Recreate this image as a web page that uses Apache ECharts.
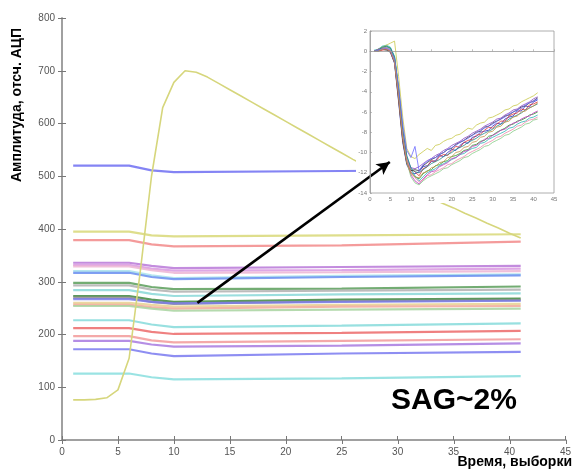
<!DOCTYPE html>
<html><head><meta charset="utf-8">
<script src="https://cdn.jsdelivr.net/npm/echarts@6/dist/echarts.min.js"></script>
<style>html,body{margin:0;padding:0;background:#fff}#c{width:574px;height:472px}</style>
</head><body><div id="c"></div>
<script>
// Sample indices shared by the full-resolution traces
const samples = Array.from({ length: 41 }, (_, i) => i + 1);

// Baseline channels: value at these sample indices
const levelX = [1, 6, 8, 10, 25, 41];
const levelValues = [
  [520, 520, 511, 508, 510, 512],
  [395, 395, 388, 386, 388, 390],
  [379, 379, 371, 367, 369, 376],
  [336, 336, 330, 326, 328, 330],
  [332, 332, 325, 321, 322, 325],
  [329, 329, 322, 317, 318, 320],
  [320, 320, 312, 307, 311, 314],
  [317, 317, 309, 305, 309, 312],
  [298, 298, 290, 286, 287, 291],
  [293, 293, 285, 281, 283, 285],
  [284, 284, 277, 273, 276, 278],
  [273, 273, 266, 262, 266, 268],
  [270, 270, 262, 258, 263, 265],
  [267, 267, 262, 259, 262, 264],
  [260, 260, 256, 253, 256, 258],
  [256, 256, 252, 249, 253, 254],
  [254, 254, 249, 245, 247, 249],
  [227, 227, 219, 214, 217, 221],
  [212, 212, 205, 201, 203, 207],
  [197, 197, 189, 185, 188, 191],
  [188, 188, 181, 177, 179, 183],
  [172, 172, 164, 159, 164, 167],
  [126, 126, 119, 115, 117, 121]
];
const levelColors = [
  '#6f6ff2', '#d8d878', '#f28a8a', '#b878d8', '#d898e0', '#ecb4d4', '#a8e0ec',
  '#6a8ef0', '#5a9e5a', '#b0b0b0', '#8ad8d8', '#3f873f', '#8c8c8c', '#7a7ae8',
  '#e8d090', '#f2a898', '#a8d4a0', '#86dada', '#ec6a6a', '#f29a9a', '#a87ae0',
  '#7a7af0', '#88dede'
];

// Channel with the large pulse
const pulseValues = [76, 76, 77, 80, 95, 155, 320, 500, 630, 678, 700, 697, 688, 676, 664,
  652, 640, 628, 616, 604, 592, 580, 568, 556, 544, 532, 521, 510, 499, 489, 479, 469, 459,
  449, 440, 430, 421, 411, 402, 392, 383];

// Baseline-subtracted traces shown in the inset
const insetTraces = [
  [0, 0.1, 0.2, 0.2, -0.1, -1.2, -5.0, -9.0, -11.2, -12.0, -12.1, -11.9, -11.4, -11.3, -10.9, -10.8, -10.3, -10.4, -10.0, -9.7, -9.8, -9.3, -9.0, -9.1, -8.5, -8.4, -8.0, -7.9, -7.8, -7.4, -7.1, -7.2, -6.7, -6.5, -6.4, -5.9, -5.9, -5.4, -5.5, -5.0, -4.8],
  [0, 0.2, 0.4, 0.5, 0.3, -0.6, -3.8, -7.9, -10.6, -11.9, -12.4, -12.6, -12.1, -11.8, -11.7, -11.3, -11.2, -10.9, -10.8, -10.4, -10.3, -10.1, -9.8, -9.7, -9.3, -9.2, -8.9, -8.8, -8.4, -8.3, -8.0, -7.8, -7.6, -7.3, -7.2, -6.9, -6.8, -6.6, -6.3, -6.2, -6.0],
  [0, 0.0, 0.1, 0.2, 0.0, -1.0, -4.5, -8.6, -11.0, -11.7, -11.9, -12.3, -11.6, -11.4, -10.8, -10.9, -10.4, -10.2, -10.3, -9.8, -9.4, -9.5, -9.0, -8.8, -8.7, -8.3, -8.2, -7.8, -7.5, -7.6, -7.2, -6.9, -6.9, -6.4, -6.2, -6.1, -5.7, -5.8, -5.3, -5.2, -5.0],
  [0.1, 0.2, 0.5, 0.6, 0.4, -0.5, -3.6, -7.8, -10.4, -11.6, -12.3, -12.8, -12.4, -12.0, -11.8, -11.6, -11.3, -11.1, -10.9, -10.7, -10.5, -10.2, -10.1, -9.8, -9.6, -9.5, -9.1, -9.0, -8.7, -8.5, -8.3, -8.1, -7.9, -7.6, -7.5, -7.2, -7.0, -6.9, -6.6, -6.5, -6.3],
  [0, 0.1, 0.3, 0.4, 0.2, -0.8, -4.0, -8.1, -10.9, -12.2, -12.8, -13.1, -12.6, -12.2, -11.9, -11.8, -11.4, -11.2, -11.0, -10.6, -10.5, -10.2, -9.9, -9.8, -9.4, -9.3, -9.0, -8.7, -8.6, -8.3, -8.1, -7.8, -7.7, -7.4, -7.1, -7.0, -6.7, -6.5, -6.4, -6.1, -5.9],
  [0, 0.2, 0.4, 0.6, 0.8, 1.0, -2.5, -6.5, -9.6, -10.4, -10.6, -10.2, -9.9, -9.6, -9.8, -9.3, -9.2, -8.9, -8.7, -8.6, -8.3, -8.2, -7.9, -7.6, -7.7, -7.3, -7.1, -7.0, -6.6, -6.5, -6.3, -6.1, -5.8, -5.7, -5.4, -5.3, -5.0, -4.8, -4.6, -4.4, -4.1],
  [0, 0.0, 0.2, 0.1, -0.1, -1.1, -4.8, -8.8, -11.1, -11.8, -11.7, -11.8, -11.3, -11.0, -10.7, -10.5, -10.2, -10.0, -9.7, -9.6, -9.2, -9.0, -8.8, -8.5, -8.3, -8.0, -7.9, -7.5, -7.4, -7.1, -6.9, -6.7, -6.4, -6.3, -6.0, -5.8, -5.5, -5.4, -5.1, -4.9, -4.6],
  [0, 0.1, 0.3, 0.4, 0.2, -0.7, -3.9, -8.2, -10.9, -12.4, -13.0, -13.2, -12.8, -12.5, -12.3, -12.1, -11.9, -11.6, -11.5, -11.2, -11.0, -10.8, -10.5, -10.4, -10.1, -9.9, -9.7, -9.4, -9.3, -9.0, -8.8, -8.6, -8.3, -8.2, -7.9, -7.7, -7.5, -7.2, -7.1, -6.8, -6.7],
  [0, 0.2, 0.3, 0.3, 0.0, -1.0, -4.3, -8.4, -10.7, -11.5, -11.6, -11.4, -11.1, -10.8, -10.6, -10.3, -10.1, -9.8, -9.6, -9.3, -9.1, -8.9, -8.6, -8.4, -8.1, -7.9, -7.7, -7.4, -7.2, -7.0, -6.7, -6.6, -6.3, -6.1, -5.8, -5.7, -5.4, -5.2, -5.0, -4.7, -4.5],
  [0, 0.1, 0.2, 0.3, 0.1, -0.9, -4.1, -8.0, -10.6, -11.9, -12.5, -12.9, -12.7, -12.3, -12.2, -11.9, -11.7, -11.5, -11.2, -11.1, -10.8, -10.6, -10.4, -10.1, -9.9, -9.7, -9.5, -9.2, -9.0, -8.8, -8.5, -8.4, -8.1, -7.9, -7.7, -7.4, -7.3, -7.0, -6.8, -6.7, -6.5],
  [0, 0.1, 0.4, 0.5, 0.3, -0.6, -3.7, -7.7, -10.3, -11.5, -11.9, -12.0, -11.7, -11.4, -11.1, -10.9, -10.7, -10.4, -10.2, -10.0, -9.7, -9.5, -9.3, -9.0, -8.8, -8.6, -8.3, -8.1, -7.9, -7.7, -7.4, -7.2, -7.0, -6.7, -6.5, -6.3, -6.1, -5.8, -5.6, -5.4, -5.2],
  [0, 0.1, 0.2, 0.3, 0.1, -0.8, -3.5, -7.2, -9.8, -10.5, -9.4, -11.8, -11.2, -10.9, -10.6, -10.5, -10.2, -10.0, -9.7, -9.5, -9.3, -9.0, -8.8, -8.6, -8.3, -8.1, -7.8, -7.6, -7.4, -7.2, -6.9, -6.7, -6.5, -6.2, -6.0, -5.8, -5.6, -5.3, -5.1, -4.9, -4.7],
  [0, 0.0, 0.2, 0.2, 0.0, -1.1, -4.6, -8.7, -11.0, -12.1, -12.4, -12.5, -12.0, -11.9, -11.5, -11.4, -11.0, -10.9, -10.5, -10.4, -10.0, -9.9, -9.5, -9.4, -9.0, -8.9, -8.5, -8.4, -8.0, -7.9, -7.5, -7.4, -7.0, -6.9, -6.5, -6.4, -6.0, -5.9, -5.6, -5.4, -5.1]
];
const insetColors = ['#2b2bc4', '#2a9a2a', '#dc3434', '#2ab4b4', '#c035c0', '#c8c84a',
  '#333333', '#86cc86', '#8a48c4', '#ee88aa', '#238888', '#6a6aff', '#c49448'];

// Arrow from the bundle of channels to the inset (main-axis units)
const arrowFrom = [12.1, 260];
const arrowTo = [29.3, 527];

const FONT = 'Liberation Sans, Arial, sans-serif';
const axisGrey = '#9a9a9a';

function boxAxis(extra) {
  return Object.assign({
    type: 'value',
    axisLine: { show: true, lineStyle: { color: axisGrey, width: 1.5 } },
    axisTick: { show: true, inside: true, length: 4, lineStyle: { color: '#777' } },
    splitLine: { show: false },
    axisLabel: { color: '#555', fontSize: 10, fontFamily: FONT }
  }, extra);
}
function insetAxis(extra) {
  return Object.assign({
    type: 'value',
    z: 6,
    axisLine: { show: true, lineStyle: { color: '#999', width: 0.8 } },
    axisTick: { show: true, inside: true, length: 2, lineStyle: { color: '#999', width: 0.6 } },
    splitLine: { show: false },
    axisLabel: { color: '#777', fontSize: 6, fontFamily: FONT, margin: 3 }
  }, extra);
}

const series = [];
levelValues.forEach((vals, i) => {
  series.push({
    type: 'line', xAxisIndex: 0, yAxisIndex: 0, z: 2,
    data: levelX.map((x, k) => [x, vals[k]]),
    showSymbol: false, silent: true,
    lineStyle: { color: levelColors[i], width: 2.2, opacity: 0.85 }
  });
});
series.push({
  type: 'line', xAxisIndex: 0, yAxisIndex: 0, z: 2,
  data: samples.map((x, k) => [x, pulseValues[k]]),
  showSymbol: false, silent: true,
  lineStyle: { color: '#d6d67c', width: 1.6 }
});
insetTraces.forEach((vals, i) => {
  series.push({
    type: 'line', xAxisIndex: 2, yAxisIndex: 2, z: 5,
    data: samples.map((x, k) => [x, vals[k]]),
    showSymbol: false, silent: true,
    lineStyle: { color: insetColors[i], width: 1, opacity: 0.8 }
  });
});
series.push({
  type: 'line', xAxisIndex: 0, yAxisIndex: 0, z: 10, data: [], silent: true,
  markLine: {
    silent: true, symbol: ['none', 'arrow'], symbolSize: [10, 13],
    label: { show: false },
    lineStyle: { color: '#000', width: 2.6, type: 'solid' },
    data: [[{ coord: arrowFrom }, { coord: arrowTo }]]
  }
});

const chart = echarts.init(document.getElementById('c'), null, { renderer: 'canvas' });
chart.setOption({
  animation: false,
  backgroundColor: '#fff',
  grid: [
    { left: 62, right: 8, top: 18, bottom: 32 },
    { left: 62, right: 8, top: 18, bottom: 32 },
    { left: 370, right: 20, top: 31, bottom: 279, z: 4 }
  ],
  xAxis: [
    boxAxis({ gridIndex: 0, min: 0, max: 45, interval: 5, position: 'bottom',
      axisLabel: { color: '#555', fontSize: 10, fontFamily: FONT, margin: 7 } }),
    boxAxis({ gridIndex: 1, min: 0, max: 45, interval: 5, position: 'top', axisLabel: { show: false } }),
    insetAxis({ gridIndex: 2, min: 0, max: 45, interval: 5 })
  ],
  yAxis: [
    boxAxis({ gridIndex: 0, min: 0, max: 800, interval: 100, position: 'left',
      axisLabel: { color: '#555', fontSize: 10, fontFamily: FONT, margin: 7 } }),
    boxAxis({ gridIndex: 1, min: 0, max: 800, interval: 100, position: 'right', axisLabel: { show: false } }),
    insetAxis({ gridIndex: 2, min: -14, max: 2, interval: 2 })
  ],
  graphic: [
    { type: 'rect', z: 3, silent: true, shape: { x: 356, y: 21, width: 206, height: 182 },
      style: { fill: '#fff' } },
    { type: 'rect', z: 6, silent: true, shape: { x: 370, y: 31, width: 184, height: 162 },
      style: { fill: 'none', stroke: '#999', lineWidth: 0.8 } },
    { type: 'text', z: 20, x: 17, y: 105, rotation: Math.PI / 2,
      style: { text: 'Амплитуда, отсч. АЦП', font: 'bold 14px ' + FONT, fill: '#000',
        align: 'center', verticalAlign: 'middle' } },
    { type: 'text', z: 20, x: 572, y: 462,
      style: { text: 'Время, выборки', font: 'bold 14px ' + FONT, fill: '#000',
        align: 'right', verticalAlign: 'middle' } },
    { type: 'text', z: 20, x: 454, y: 401,
      style: { text: 'SAG~2%', font: 'bold 30px ' + FONT, fill: '#000',
        align: 'center', verticalAlign: 'middle' } }
  ],
  series: series
});
</script>
</body></html>
